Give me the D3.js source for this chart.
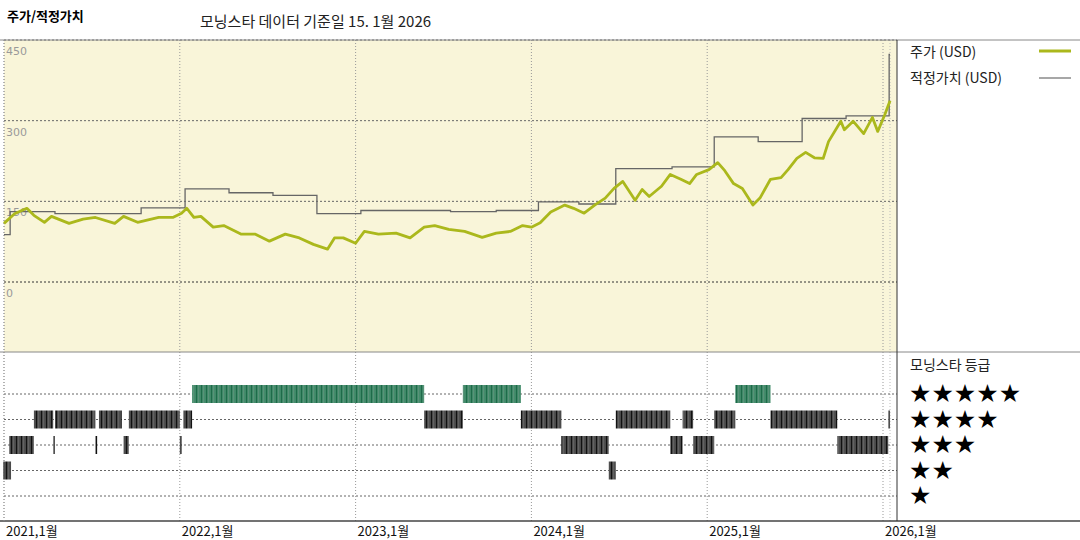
<!DOCTYPE html>
<html><head><meta charset="utf-8">
<script src="https://cdn.jsdelivr.net/npm/d3@7"></script>
<style>body{margin:0;background:#fff}svg{display:block;font-family:"Noto Sans CJK KR",sans-serif}</style>
</head><body><svg id="c" width="1080" height="540"></svg>
<script>
// decimal years
const yearTicks = [2021, 2022, 2023, 2024, 2025, 2026];
const yearLabels = ["2021,1월","2022,1월","2023,1월","2024,1월","2025,1월","2026,1월"];
const priceTicks = [0, 150, 300, 450];
const priceDates = [2021.00,2021.06,2021.13,2021.17,2021.23,2021.27,2021.37,2021.45,2021.52,2021.63,2021.68,2021.76,2021.88,2021.96,2022.01,2022.04,2022.08,2022.12,2022.19,2022.25,2022.35,2022.43,2022.51,2022.60,2022.68,2022.76,2022.84,2022.88,2022.93,2023.00,2023.05,2023.13,2023.23,2023.31,2023.39,2023.45,2023.53,2023.62,2023.72,2023.80,2023.88,2023.95,2024.00,2024.05,2024.11,2024.19,2024.24,2024.30,2024.36,2024.42,2024.47,2024.52,2024.59,2024.63,2024.67,2024.74,2024.79,2024.85,2024.90,2024.94,2025.01,2025.06,2025.10,2025.15,2025.20,2025.26,2025.30,2025.36,2025.42,2025.46,2025.51,2025.56,2025.61,2025.66,2025.69,2025.76,2025.78,2025.83,2025.89,2025.94,2025.97,2026.01,2026.04];
const priceValues = [109,127,137,124,111,122,109,117,120,109,122,111,120,120,128,137,120,122,102,105,89,89,76,89,82,70,61,82,82,72,94,89,91,82,102,105,98,94,83,91,94,105,102,110,130,143,137,128,143,156,174,187,152,172,159,178,200,191,183,200,209,222,207,183,174,143,156,191,194,209,230,241,231,230,261,299,283,299,276,306,280,311,337];
const fairDates = [2021.00,2021.035,2021.29,2021.78,2022.03,2022.28,2022.53,2022.78,2023.03,2023.54,2023.80,2024.04,2024.27,2024.48,2024.80,2025.04,2025.29,2025.54,2025.79,2026.035,2026.04];
const fairValues = [88,131,127,138,173,166,161,127,133,131,133,149,145,211,214,270,261,304,309,423,423];
// rating periods: [start, end, stars]
const ratingStart = [2021.03,2021.28,2021.52,2021.68,2022.00, 2021.17,2021.29,2021.54,2021.71,2022.02, 2022.07,2023.39,2023.61,2023.94,2024.17,2024.44,2024.48,2024.79,2024.86,2024.92,2025.04,2025.16,2025.36,2025.74,2026.03,2020.995];
const ratingEnd   = [2021.17,2021.29,2021.53,2021.71,2022.01, 2021.28,2021.52,2021.67,2022.00,2022.07, 2023.39,2023.61,2023.94,2024.17,2024.44,2024.48,2024.79,2024.86,2024.92,2025.04,2025.16,2025.36,2025.74,2026.03,2026.04,2021.04];
const ratingStars = [3,3,3,3,3, 4,4,4,4,4, 5,4,5,4,3,2,4,3,4,3,4,5,4,3,4,2];
const legendNames = ["주가 (USD)", "적정가치 (USD)"];
const starRows = [5,4,3,2,1];

const svg = d3.select("#c");
const L = 4, R = 897, T = 40, MID = 352, B = 521;
const x = d3.scaleLinear().domain([2021, 2026]).range([L, 883]);
const y = d3.scaleLinear().domain([0, 450]).range([282, T]);
const yr = d3.scaleLinear().domain([5, 1]).range([394, 496]);

const defs = svg.append("defs");
function stripe(id, base, line){
  const p = defs.append("pattern").attr("id", id).attr("patternUnits","userSpaceOnUse").attr("width",5).attr("height",10);
  p.append("rect").attr("width",5).attr("height",10).attr("fill",base);
  p.append("rect").attr("x",1).attr("width",1).attr("height",10).attr("fill",line);
  p.append("rect").attr("x",3.5).attr("width",0.6).attr("height",10).attr("fill","#aaa").attr("opacity",0.5);
}
stripe("pg","#3f8a68","#1f6a4a");
stripe("pd","#4a4a4a","#111");

svg.append("rect").attr("x",L).attr("y",T).attr("width",R-L).attr("height",MID-T).attr("fill","#f9f5d9");

// titles
svg.append("text").attr("x",7).attr("y",21).attr("font-size",13).attr("font-weight","bold").text("주가/적정가치");
svg.append("text").attr("x",200).attr("y",27).attr("font-size",15).attr("fill","#222").text("모닝스타 데이터 기준일 15. 1월 2026");

// vertical grid
svg.append("g").selectAll("line").data(yearTicks).join("line")
  .attr("x1",d=>x(d)).attr("x2",d=>x(d)).attr("y1",T).attr("y2",B)
  .attr("stroke","#999").attr("stroke-dasharray","1,2");
svg.append("line").attr("x1",890).attr("x2",890).attr("y1",T).attr("y2",B).attr("stroke","#bbb").attr("stroke-dasharray","1,2");

// horizontal price grid
svg.append("g").selectAll("line").data(priceTicks).join("line")
  .attr("x1",L).attr("x2",R).attr("y1",d=>y(d)).attr("y2",d=>y(d))
  .attr("stroke",d=>d===0?"#333":"#666").attr("stroke-dasharray","2,2");
svg.append("g").selectAll("text").data(priceTicks).join("text")
  .attr("x",6).attr("y",d=>y(d)+15).attr("font-size",11).attr("fill","#999")
  .attr("font-family","DejaVu Sans").text(d=>d);

// rating grid
svg.append("g").selectAll("line").data(starRows).join("line")
  .attr("x1",L).attr("x2",R).attr("y1",d=>yr(d)).attr("y2",d=>yr(d))
  .attr("stroke","#666").attr("stroke-dasharray","2,2");

// frame lines
svg.append("line").attr("x1",0).attr("x2",1080).attr("y1",T).attr("y2",T).attr("stroke","#888");
svg.append("line").attr("x1",0).attr("x2",1080).attr("y1",MID).attr("y2",MID).attr("stroke","#888");
svg.append("line").attr("x1",0).attr("x2",1080).attr("y1",B).attr("y2",B).attr("stroke","#444").attr("stroke-width",1.5);
svg.append("line").attr("x1",R).attr("x2",R).attr("y1",T).attr("y2",B).attr("stroke","#333");
svg.append("line").attr("x1",L).attr("x2",L).attr("y1",T).attr("y2",B).attr("stroke","#999").attr("stroke-dasharray","1,2");

// lines
const fair = fairDates.map((d,i)=>[d,fairValues[i]]);
svg.append("path").datum(fair).attr("fill","none").attr("stroke","#666").attr("stroke-width",1.3)
  .attr("d",d3.line().x(d=>x(d[0])).y(d=>y(d[1])).curve(d3.curveStepAfter));
const price = priceDates.map((d,i)=>[d,priceValues[i]]);
svg.append("path").datum(price).attr("fill","none").attr("stroke","#abb81c").attr("stroke-width",2.8)
  .attr("stroke-linejoin","round")
  .attr("d",d3.line().x(d=>x(d[0])).y(d=>y(d[1])));

// rating bars
svg.append("g").selectAll("rect").data(ratingStars.map((s,i)=>({s,a:ratingStart[i],b:ratingEnd[i]}))).join("rect")
  .attr("x",d=>x(d.a)).attr("width",d=>Math.max(1.2,x(d.b)-x(d.a)))
  .attr("y",d=>yr(d.s)-9).attr("height",18)
  .attr("fill",d=>d.s===5?"url(#pg)":"url(#pd)");

// x labels
svg.append("g").selectAll("text").data(yearTicks).join("text")
  .attr("x",d=>x(d)+2).attr("y",536).attr("font-size",13).attr("fill","#111").text((d,i)=>yearLabels[i]);

// legend
svg.append("text").attr("x",910).attr("y",57).attr("font-size",14).attr("fill","#222").text(legendNames[0]);
svg.append("line").attr("x1",1039).attr("x2",1071).attr("y1",51).attr("y2",51).attr("stroke","#abb81c").attr("stroke-width",3);
svg.append("text").attr("x",910).attr("y",83).attr("font-size",14).attr("fill","#222").text(legendNames[1]);
svg.append("line").attr("x1",1039).attr("x2",1071).attr("y1",78).attr("y2",78).attr("stroke","#777").attr("stroke-width",1.3);
svg.append("text").attr("x",910).attr("y",370).attr("font-size",14).attr("fill","#222").text("모닝스타 등급");
svg.append("g").selectAll("text").data(starRows).join("text")
  .attr("x",909).attr("y",d=>yr(d)+8).attr("font-size",25).attr("font-family","DejaVu Sans").attr("fill","#000")
  .text(d=>"★".repeat(d));
</script></body></html>
